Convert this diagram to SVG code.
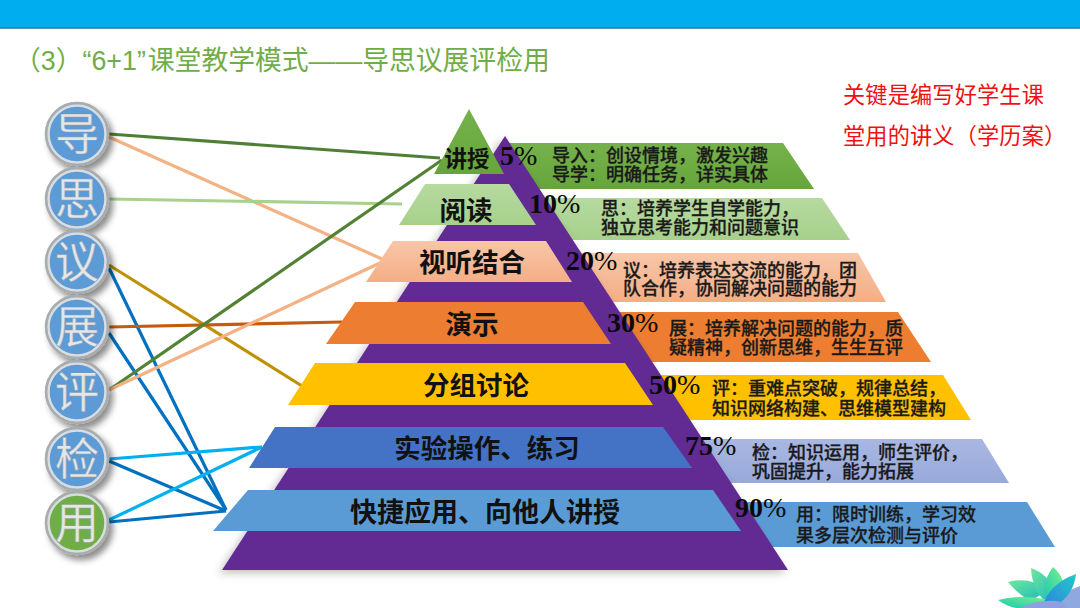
<svg xmlns="http://www.w3.org/2000/svg" width="1080" height="608" viewBox="0 0 1080 608">
<style>
.cj{font-family:"Noto Sans CJK SC","Noto Sans",sans-serif}
.lb{font-family:"Noto Sans CJK SC",sans-serif;font-weight:700;fill:#111;text-anchor:middle}
.ds{font-family:"Noto Sans CJK SC",sans-serif;font-weight:500;font-size:18px;fill:#1a1a1a;stroke:#1a1a1a;stroke-width:.3}
.pc{font-family:"Liberation Serif",serif;font-size:28px;fill:#0a0a0a}
.pc tspan{font-weight:700}
.ch{font-family:"Noto Sans CJK SC",sans-serif;font-size:44px;fill:#e4e6e8;text-anchor:middle;font-weight:400;stroke:#9aa3ab;stroke-width:.4}
.ln{fill:none;stroke-width:3.2}
.ring{stroke:#a9abad;stroke-width:2.5}
.inner{fill:none;stroke:#d9dde0;stroke-width:2.5}
</style>
<defs>
<filter id="sh" x="-30%" y="-30%" width="170%" height="170%"><feDropShadow dx="4" dy="5" stdDeviation="3" flood-color="#000" flood-opacity=".45"/></filter>
<filter id="soft" x="-10%" y="-10%" width="120%" height="120%"><feDropShadow dx="-3" dy="3" stdDeviation="4" flood-color="#000" flood-opacity=".25"/></filter>
<linearGradient id="g1" x1="0" y1="0" x2="0" y2="1"><stop offset="0" stop-color="#76B24B"/><stop offset="1" stop-color="#66A53C"/></linearGradient>
<linearGradient id="g2" x1="0" y1="0" x2="0" y2="1"><stop offset="0" stop-color="#B7DAA0"/><stop offset="1" stop-color="#A6D08B"/></linearGradient>
<linearGradient id="g3" x1="0" y1="0" x2="0" y2="1"><stop offset="0" stop-color="#F8C6A8"/><stop offset="1" stop-color="#F4AE86"/></linearGradient>
<linearGradient id="g6" x1="0" y1="0" x2="0" y2="1"><stop offset="0" stop-color="#A9B7E2"/><stop offset="1" stop-color="#98A9DA"/></linearGradient>
<linearGradient id="l1" x1="0" y1="1" x2="1" y2="0"><stop offset="0" stop-color="#16C8B4"/><stop offset="1" stop-color="#7CF08C"/></linearGradient>
<linearGradient id="l2" x1="0" y1="1" x2="1" y2="0"><stop offset="0" stop-color="#2D80E0"/><stop offset="1" stop-color="#25C8C8"/></linearGradient>
<linearGradient id="l3" x1="0" y1="0" x2="1" y2="1"><stop offset="0" stop-color="#6FE89A"/><stop offset="1" stop-color="#1BB8C0"/></linearGradient>
</defs>

<rect id="top-bar" x="0" y="0" width="1080" height="28" fill="#00AEEF"/>
<rect x="0" y="27.5" width="1080" height="1.2" fill="#0B6F97"/>
<text id="title" x="14" y="70" font-size="26.8" fill="#70AD47" font-family="'Liberation Sans','Noto Sans CJK SC',sans-serif">（3）“6+1”<tspan dx="2">课堂教学模式——导思议展评检用</tspan></text>
<g id="note" class="cj" font-size="22.2" fill="#F01010" letter-spacing=".15">
<text x="843" y="103">关键是编写好学生课</text>
<text x="843" y="144">堂用的讲义（学历案）</text>
</g>

<g id="right-bands">
<polygon points="505,143 783,143 814,189 505,189" fill="url(#g1)"/>
<polygon points="525,198 822,198 850,240 525,240" fill="url(#g2)"/>
<polygon points="560,253 858,253 886,302 560,302" fill="url(#g3)"/>
<polygon points="600,312 898,312 931,362 600,362" fill="#ED7D31"/>
<polygon points="640,375 943,375 971,420 640,420" fill="#FFC000"/>
<polygon points="680,439 982,439 1009,483 680,483" fill="url(#g6)"/>
<polygon points="730,502 1027,502 1055,547 730,547" fill="#5B9BD5"/>
</g>

<polygon id="pyramid" points="505,136 788,570 222,570" fill="#622C93" filter="url(#soft)"/>

<g id="connectors">
<line class="ln" x1="109" y1="134" x2="440" y2="158" stroke="#4E7F35"/>
<line class="ln" x1="109" y1="137" x2="382" y2="259" stroke="#F4B183"/>
<line class="ln" x1="109" y1="199" x2="402" y2="204" stroke="#A9D18E"/>
<line class="ln" x1="109" y1="265" x2="302" y2="386" stroke="#BF9000"/>
<line class="ln" x1="109" y1="268" x2="226" y2="510" stroke="#0070C0"/>
<line class="ln" x1="109" y1="327" x2="342" y2="322" stroke="#C55A11"/>
<line class="ln" x1="109" y1="333" x2="226" y2="510" stroke="#0070C0"/>
<line class="ln" x1="109" y1="390" x2="442" y2="160" stroke="#548235"/>
<line class="ln" x1="109" y1="390" x2="382" y2="262" stroke="#F4B183"/>
<line class="ln" x1="109" y1="459" x2="262" y2="447" stroke="#00B0F0"/>
<line class="ln" x1="109" y1="461" x2="226" y2="511" stroke="#0070C0"/>
<line class="ln" x1="109" y1="520" x2="262" y2="447" stroke="#00B0F0"/>
<line class="ln" x1="109" y1="522" x2="226" y2="511" stroke="#0070C0"/>
</g>

<g id="left-bands">
<polygon points="469,109 504,174 434,174" fill="url(#g1)"/>
<polygon points="425,184 509,184 536,225 399,225" fill="url(#g2)"/>
<polygon points="393,241 546,241 572,282 366,282" fill="url(#g3)"/>
<polygon points="355,302 583,302 611,344 326,344" fill="#ED7D31"/>
<polygon points="315,363 625,363 653,405 288,405" fill="#FFC000"/>
<polygon points="275,427 663,427 692,468 249,468" fill="#4472C4"/>
<polygon points="248,490 713,490 741,531 213,531" fill="#5B9BD5"/>
</g>

<g id="labels">
<text class="lb" x="467" y="167" font-size="22.5">讲授</text>
<text class="lb" x="466" y="220" font-size="26.5">阅读</text>
<text class="lb" x="472" y="272" font-size="26.5">视听结合</text>
<text class="lb" x="472" y="334" font-size="26.5">演示</text>
<text class="lb" x="476" y="395" font-size="26.5">分组讨论</text>
<text class="lb" x="487" y="458" font-size="26.5">实验操作、练习</text>
<text class="lb" x="485" y="522" font-size="27">快捷应用、向他人讲授</text>
</g>

<g id="percents">
<text class="pc" x="500" y="165"><tspan>5</tspan>%</text>
<text class="pc" x="529" y="213"><tspan>10</tspan>%</text>
<text class="pc" x="566" y="270"><tspan>20</tspan>%</text>
<text class="pc" x="607" y="332"><tspan>30</tspan>%</text>
<text class="pc" x="649" y="394"><tspan>50</tspan>%</text>
<text class="pc" x="685" y="455"><tspan>75</tspan>%</text>
<text class="pc" x="735" y="517"><tspan>90</tspan>%</text>
</g>

<g id="descriptions">
<text class="ds" x="552" y="162">导入：创设情境，激发兴趣</text>
<text class="ds" x="552" y="181">导学：明确任务，详实具体</text>
<text class="ds" x="601" y="215">思：培养学生自学能力，</text>
<text class="ds" x="601" y="234">独立思考能力和问题意识</text>
<text class="ds" x="623" y="277">议：培养表达交流的能力，团</text>
<text class="ds" x="623" y="295">队合作，协同解决问题的能力</text>
<text class="ds" x="669" y="335">展：培养解决问题的能力，质</text>
<text class="ds" x="669" y="354">疑精神，创新思维，生生互评</text>
<text class="ds" x="712" y="395">评：重难点突破，规律总结，</text>
<text class="ds" x="712" y="415">知识网络构建、思维模型建构</text>
<text class="ds" x="752" y="459">检：知识运用，师生评价，</text>
<text class="ds" x="752" y="478">巩固提升，能力拓展</text>
<text class="ds" x="796" y="521">用：限时训练，学习效</text>
<text class="ds" x="796" y="542">果多层次检测与评价</text>
</g>

<g id="node-dao"><circle class="ring" cx="77" cy="134" r="31" fill="#5B9BD5" filter="url(#sh)"/><circle class="inner" cx="77" cy="134" r="28.5"/><text class="ch" x="77" y="150">导</text></g>
<g id="node-si"><circle class="ring" cx="77" cy="199" r="31" fill="#5B9BD5" filter="url(#sh)"/><circle class="inner" cx="77" cy="199" r="28.5"/><text class="ch" x="77" y="215">思</text></g>
<g id="node-yi"><circle class="ring" cx="77" cy="262" r="31" fill="#5B9BD5" filter="url(#sh)"/><circle class="inner" cx="77" cy="262" r="28.5"/><text class="ch" x="77" y="278">议</text></g>
<g id="node-zhan"><circle class="ring" cx="77" cy="327" r="31" fill="#5B9BD5" filter="url(#sh)"/><circle class="inner" cx="77" cy="327" r="28.5"/><text class="ch" x="77" y="343">展</text></g>
<g id="node-ping"><circle class="ring" cx="77" cy="392" r="31" fill="#5B9BD5" filter="url(#sh)"/><circle class="inner" cx="77" cy="392" r="28.5"/><text class="ch" x="77" y="408">评</text></g>
<g id="node-jian"><circle class="ring" cx="77" cy="459" r="31" fill="#5B9BD5" filter="url(#sh)"/><circle class="inner" cx="77" cy="459" r="28.5"/><text class="ch" x="77" y="475">检</text></g>
<g id="node-yong"><circle class="ring" cx="77" cy="523" r="31" fill="#70AD47" filter="url(#sh)"/><circle class="inner" cx="77" cy="523" r="28.5"/><text class="ch" x="77" y="539">用</text></g>

<g id="logo">
<path d="M1080,586 Q1062,592 1050,608 L1080,608Z" fill="#8FA8E0"/>
<path d="M1008,582 Q1030,576 1048,590 Q1034,600 1028,600 Q1016,592 1008,582Z" fill="url(#l3)"/>
<path d="M1031,568 Q1048,574 1056,592 L1046,602 Q1032,590 1031,568Z" fill="url(#l3)"/>
<path d="M1053,567 Q1068,580 1062,596 L1048,604 Q1040,584 1053,567Z" fill="url(#l1)"/>
<path d="M998,600 Q1020,594 1050,600 Q1030,610 1016,608 Q1006,606 998,600Z" fill="url(#l1)"/>
<path d="M1076,574 Q1074,596 1052,608 L1042,608 Q1048,584 1076,574Z" fill="url(#l2)"/>
<path d="M1020,608 Q1040,598 1062,602 L1066,608Z" fill="#8FA0E0"/>
</g>
</svg>
